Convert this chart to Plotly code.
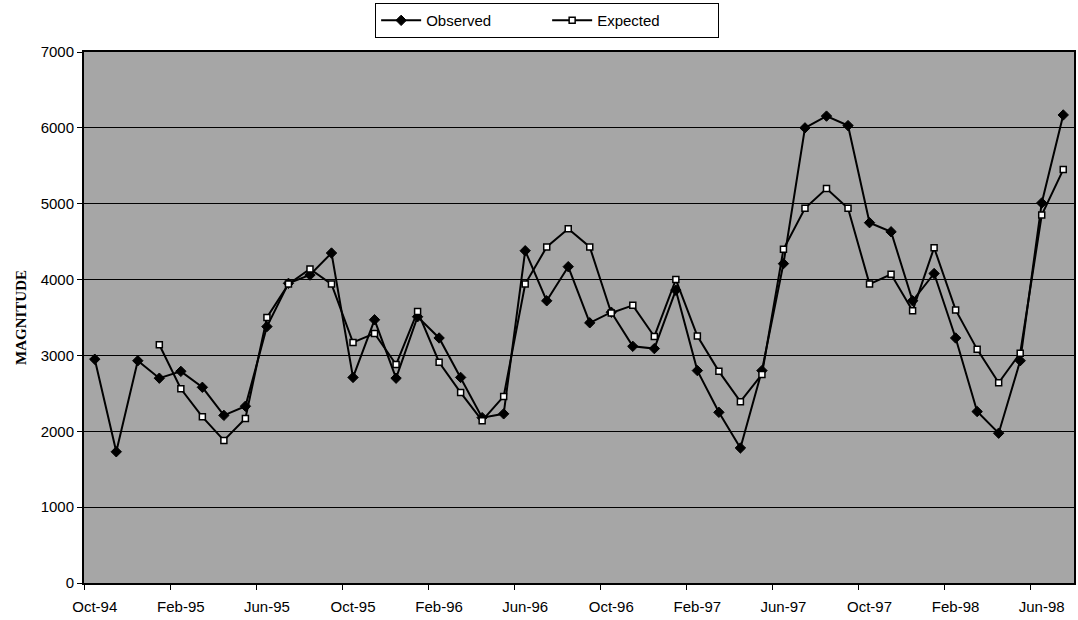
import plotly.graph_objects as go

months = ["Oct-94", "Nov-94", "Dec-94", "Jan-95", "Feb-95", "Mar-95", "Apr-95", "May-95",
          "Jun-95", "Jul-95", "Aug-95", "Sep-95", "Oct-95", "Nov-95", "Dec-95", "Jan-96",
          "Feb-96", "Mar-96", "Apr-96", "May-96", "Jun-96", "Jul-96", "Aug-96", "Sep-96",
          "Oct-96", "Nov-96", "Dec-96", "Jan-97", "Feb-97", "Mar-97", "Apr-97", "May-97",
          "Jun-97", "Jul-97", "Aug-97", "Sep-97", "Oct-97", "Nov-97", "Dec-97", "Jan-98",
          "Feb-98", "Mar-98", "Apr-98", "May-98", "Jun-98", "Jul-98"]

observed = [2950, 1730, 2930, 2700, 2790, 2580, 2210, 2330,
            3380, 3950, 4060, 4350, 2710, 3470, 2700, 3510,
            3230, 2710, 2180, 2230, 4380, 3720, 4170, 3430,
            3570, 3120, 3090, 3860, 2800, 2250, 1780, 2800,
            4210, 6000, 6155, 6030, 4750, 4630, 3720, 4080,
            3230, 2260, 1975, 2930, 5010, 6170]

expected = [None, None, None, 3140, 2560, 2190, 1880, 2170,
            3500, 3940, 4140, 3940, 3170, 3290, 2880, 3580,
            2910, 2510, 2140, 2460, 3940, 4430, 4670, 4430,
            3560, 3660, 3250, 4000, 3255, 2790, 2390, 2750,
            4400, 4940, 5200, 4940, 3940, 4070, 3590, 4420,
            3600, 3080, 2640, 3030, 4850, 5450]

y_ticks = [0, 1000, 2000, 3000, 4000, 5000, 6000, 7000]

x_idx = list(range(len(months)))
label_idx = x_idx[::4]
label_text = [months[i] for i in label_idx]
boundaries = [i - 0.5 for i in label_idx]

fig = go.Figure()
fig.add_trace(go.Scatter(
    x=x_idx, y=observed, name="Observed", mode="lines+markers",
    line=dict(color="black", width=2),
    marker=dict(symbol="diamond", size=8, color="black",
                line=dict(color="black", width=1)),
))
fig.add_trace(go.Scatter(
    x=x_idx, y=expected, name="Expected", mode="lines+markers",
    line=dict(color="black", width=2),
    marker=dict(symbol="square", size=6, color="white",
                line=dict(color="black", width=1.5)),
))

fig.update_layout(
    width=1078, height=620,
    margin=dict(l=84, r=4, t=52, b=37, autoexpand=False),
    paper_bgcolor="white",
    plot_bgcolor="#a6a6a6",
    font=dict(family="Arial, Liberation Sans, sans-serif", size=15, color="black"),
    showlegend=True,
    legend=dict(
        orientation="h",
        xref="container", x=0.348, xanchor="left",
        yref="container", y=0.995, yanchor="top",
        bgcolor="white", bordercolor="black", borderwidth=1,
        font=dict(size=15, family="Arial, Liberation Sans, sans-serif"),
        itemwidth=40, entrywidth=116,
    ),
    xaxis=dict(
        range=[-0.5, len(months) - 0.5],
        tickmode="array", tickvals=label_idx, ticktext=label_text,
        ticks="", showgrid=False, zeroline=False,
        showline=True, linecolor="black", linewidth=2, mirror=True,
        tickfont=dict(size=15),
        ticklabelstandoff=9,
        automargin=False,
        minor=dict(tickmode="array", tickvals=boundaries, ticks="outside",
                   ticklen=5, tickcolor="black", tickwidth=1, showgrid=False),
    ),
    yaxis=dict(
        range=[0, 7000],
        tickmode="array", tickvals=y_ticks,
        ticks="outside", ticklen=5, tickcolor="black",
        showgrid=True, gridcolor="black", gridwidth=1,
        zeroline=False,
        showline=True, linecolor="black", linewidth=2, mirror=True,
        tickfont=dict(size=15),
        automargin=False,
        title=dict(text="<b>MAGNITUDE</b>",
                   font=dict(family="Times New Roman, Liberation Serif, serif", size=15),
                   standoff=10),
    ),
)

fig.write_html("out.html", config={"displayModeBar": False},
               post_script="document.body.style.margin='0';")
